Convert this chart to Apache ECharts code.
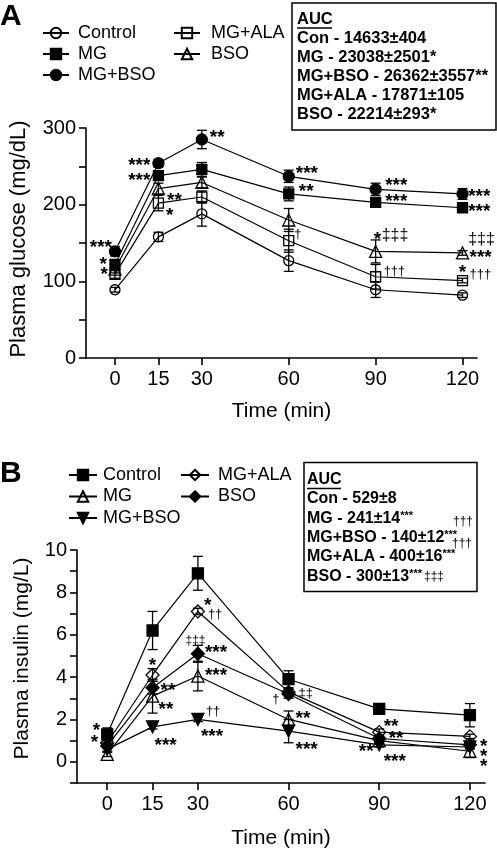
<!DOCTYPE html>
<html><head><meta charset="utf-8">
<script src="https://cdn.jsdelivr.net/npm/echarts@6/dist/echarts.min.js"></script>
<style>html,body{margin:0;padding:0;background:#fff}#a,#b{width:497px;height:427px}</style>
</head><body><div id="a"></div><div id="b"></div>
<script>
// ---------------- DATA ----------------
const timePoints = [0, 15, 30, 60, 90, 120];
const xTickLabels = ['0', '15', '30', '60', '90', '120'];
const groupNames = ['Control', 'MG', 'MG+BSO', 'MG+ALA', 'BSO'];

// Panel A: plasma glucose (mg/dL)
const yTickLabelsA = [0, 100, 200, 300];
const glucoseControl = [89, 158, 188, 127, 89, 82];
const glucoseControlErr = [3, 6, 16, 14, 10, 3];
const glucoseMG = [122, 238, 246, 214, 203, 196];
const glucoseMGErr = [6, 6, 9, 9, 5, 4];
const glucoseMGBSO = [139, 254, 285, 237, 220, 214];
const glucoseMGBSOErr = [6, 5, 12, 8, 8, 7];
const glucoseMGALA = [109, 202, 210, 153, 106, 101];
const glucoseMGALAErr = [5, 10, 8, 15, 16, 3];
const glucoseBSO = [116, 221, 229, 180, 139, 137];
const glucoseBSOErr = [5, 7, 7, 15, 15, 3];
const aucTitleA = 'AUC';
const aucLinesA = ['Con - 14633±404', 'MG - 23038±2501*', 'MG+BSO - 26362±3557**', 'MG+ALA - 17871±105', 'BSO - 22214±293*'];

// Panel B: plasma insulin (mg/L)
const yTickLabelsB = [0, 2, 4, 6, 8, 10];
const insulinControl = [1.3, 6.2, 8.9, 3.9, 2.5, 2.2];
const insulinControlErr = [0.3, 0.9, 0.8, 0.4, 0.2, 0.55];
const insulinMG = [0.35, 3.1, 4.05, 2.0, 1.0, 0.5];
const insulinMGErr = [0.1, 0.8, 0.7, 0.4, 0.15, 0.3];
const insulinMGBSO = [0.6, 1.65, 2.0, 1.45, 0.8, 0.7];
const insulinMGBSOErr = [0.1, 0.1, 0.1, 0.55, 0.1, 0.1];
const insulinMGALA = [0.9, 4.1, 7.1, 3.3, 1.4, 1.2];
const insulinMGALAErr = [0.1, 0.3, 0.15, 0.15, 0.15, 0.1];
const insulinBSO = [0.75, 3.5, 5.1, 3.2, 1.1, 0.8];
const insulinBSOErr = [0.1, 0.3, 0.4, 0.2, 0.1, 0.15];
const aucTitleB = 'AUC';
const aucLinesB = ['Con - 529±8', 'MG - 241±14', 'MG+BSO - 140±12', 'MG+ALA - 400±16', 'BSO - 300±13'];
const aucSupB = ['', '***', '***', '***', '***'];

// Significance marks: [group, time index, text]
const marksA = [
  ['MG+BSO',0,'***'],['MG',0,'*'],['MG+ALA',0,'*'],
  ['MG+BSO',1,'***'],['MG',1,'***'],['BSO',1,'**'],['MG+ALA',1,'*'],
  ['MG+BSO',2,'**'],
  ['MG+BSO',3,'***'],['MG',3,'**'],['MG+ALA',3,'†'],
  ['MG+BSO',4,'***'],['MG',4,'***'],['BSO',4,'*'],['BSO',4,'‡‡‡'],['MG+ALA',4,'†††'],
  ['MG+BSO',5,'***'],['MG',5,'***'],['BSO',5,'‡‡‡'],['BSO',5,'***'],['MG+ALA',5,'*'],['MG+ALA',5,'†††']
];
const marksB = [
  ['Control',0,'*'],['MG+ALA',0,'*'],
  ['MG+ALA',1,'*'],['BSO',1,'**'],['MG',1,'**'],['MG+BSO',1,'***'],
  ['MG+ALA',2,'*'],['MG+ALA',2,'††'],['BSO',2,'‡‡‡'],['BSO',2,'***'],['MG',2,'***'],['MG+BSO',2,'††'],['MG+BSO',2,'***'],
  ['BSO',3,'†'],['MG+ALA',3,'‡‡'],['MG',3,'**'],['MG+BSO',3,'***'],
  ['MG+ALA',4,'**'],['BSO',4,'**'],['MG',4,'**'],['MG+BSO',4,'***'],
  ['BSO',5,'*'],['BSO',5,'*'],['BSO',5,'*']
];

// ---------------- LAYOUT / STYLE ----------------
const FONT = 'Liberation Sans, Arial, Helvetica, sans-serif';
// per-mark placement: [align, dx, dy, fontSize]
const marksLayoutA = [
  ['r',-3,-3.6],['r',-8,0],['r',-7,0],
  ['r',-8,2.4],['r',-8,5],['l',8.6,11.7],['l',7.6,13],
  ['l',8,-1.3],
  ['l',7,-2.4],['l',10,-2],['l',5.5,-6,13],
  ['l',9.5,-3.3],['l',9.5,-1],['l',-2,-12],['l',6,-16,16],['l',8,-5.7,13],
  ['l',5.7,3.3],['l',5.7,4],['l',5.7,-13.4,16],['l',7,4.6],['c',0,-7.5],['l',7,-6.5,13]
];
const marksLayoutB = [
  ['r',-7,-4],['r',-9,0],
  ['c',0,-9.6],['l',8,3.3],['l',6,13.5],['l',2,18.4],
  ['l',6,-6],['l',10,3.4,13],['c',-2.4,-13.3,12],['l',7,-0.7],['l',7,-0.6],['l',8,-8,13],['l',3,17.5],
  ['r',-9,5.6,13],['l',10,2,13],['l',7,-0.8],['l',7,18.5],
  ['l',4.5,-5.3],['l',9.5,0],['r',-5.7,11.2],['l',4.5,17],
  ['l',10,2],['l',10,11.4],['l',10,22]
];
const DOWN_TRI = 'path://M0,0 L10,0 L5,9 Z';
const symA = {
  'Control': {symbol: 'circle', size: 10, hollow: true},
  'MG': {symbol: 'rect', size: 10, hollow: false},
  'MG+BSO': {symbol: 'circle', size: 11, hollow: false},
  'MG+ALA': {symbol: 'rect', size: 10, hollow: true},
  'BSO': {symbol: 'triangle', size: 12, hollow: true}
};
const symB = {
  'Control': {symbol: 'rect', size: 11, hollow: false},
  'MG': {symbol: 'triangle', size: 12, hollow: true},
  'MG+BSO': {symbol: DOWN_TRI, size: 12, hollow: false},
  'MG+ALA': {symbol: 'diamond', size: 13, hollow: true},
  'BSO': {symbol: 'diamond', size: 13, hollow: false}
};

function buildOption(p) {
  const series = [];
  const errData = [];
  groupNames.forEach(g => {
    p.values[g].forEach((v, i) => errData.push([timePoints[i], v, p.errors[g][i]]));
  });
  series.push({
    type: 'custom', silent: true, z: 2, clip: false,
    encode: {x: 0, y: 1},
    data: errData,
    renderItem: function (params, api) {
      const x = api.value(0), y = api.value(1), e = api.value(2);
      const t = api.coord([x, y + e]), b = api.coord([x, y - e]);
      const w = 5, st = {stroke: '#000', lineWidth: 1.3};
      return {type: 'group', children: [
        {type: 'line', shape: {x1: t[0], y1: t[1], x2: b[0], y2: b[1]}, style: st},
        {type: 'line', shape: {x1: t[0] - w, y1: t[1], x2: t[0] + w, y2: t[1]}, style: st},
        {type: 'line', shape: {x1: b[0] - w, y1: b[1], x2: b[0] + w, y2: b[1]}, style: st}
      ]};
    }
  });
  groupNames.forEach(g => {
    const s = p.sym[g];
    series.push({
      name: g, type: 'line', z: 3,
      data: p.values[g].map((v, i) => [timePoints[i], v]),
      symbol: s.symbol, symbolSize: s.size, showAllSymbol: true,
      lineStyle: {color: '#000', width: 1.2},
      itemStyle: {color: s.hollow ? 'rgba(255,255,255,0)' : '#000', borderColor: '#000', borderWidth: 1.3},
      emphasis: {disabled: true}
    });
  });
  series.push({
    type: 'scatter', silent: true, z: 5, symbolSize: 1,
    itemStyle: {color: 'rgba(0,0,0,0)'},
    data: p.marks.map((m, k) => {
      const L = p.marksLayout[k];
      const isDag = /[†‡]/.test(m[2]);
      return {
        value: [timePoints[m[1]], p.values[m[0]][m[1]]],
        label: {
          show: true, position: 'inside', formatter: m[2],
          offset: [L[1], L[2]],
          align: L[0] === 'l' ? 'left' : (L[0] === 'r' ? 'right' : 'center'),
          verticalAlign: 'middle', opacity: 1,
          fontSize: L[3] || 19, fontFamily: FONT, color: '#000',
          textBorderWidth: 0,
          fontWeight: isDag ? 'normal' : 'bold'
        }
      };
    })
  });
  const axisCommon = {
    axisLine: {show: true, onZero: false, lineStyle: {color: '#000', width: 1.6}},
    axisTick: {show: true, length: 7, lineStyle: {color: '#000', width: 1.6}},
    splitLine: {show: false}
  };
  const legendCommon = {
    orient: 'vertical', selectedMode: false, itemHeight: 13,
    textStyle: {fontSize: 18, fontFamily: FONT, color: '#000', lineHeight: 18}
  };
  return {
    animation: false,
    grid: p.grid,
    legend: [
      Object.assign({}, legendCommon, {data: groupNames.slice(0, 3), left: p.leg[0], top: p.leg[1], itemWidth: p.leg[2], itemGap: p.leg[3],
        textStyle: Object.assign({}, legendCommon.textStyle, {padding: [0, 0, 0, p.leg[4]]})}),
      Object.assign({}, legendCommon, {data: groupNames.slice(3), left: p.leg[5], top: p.leg[1], itemWidth: p.leg[6], itemGap: p.leg[3],
        textStyle: Object.assign({}, legendCommon.textStyle, {padding: [0, 0, 0, p.leg[7]]})})
    ],
    xAxis: Object.assign({}, axisCommon, {
      type: 'value', min: -10, max: 125,
      axisTick: Object.assign({}, axisCommon.axisTick, {customValues: timePoints}),
      axisLabel: {customValues: timePoints, formatter: v => xTickLabels[timePoints.indexOf(v)] || '', fontSize: 20, fontFamily: FONT, color: '#000', margin: 11},
      name: 'Time (min)', nameLocation: 'middle', nameGap: p.xNameGap,
      nameTextStyle: {fontSize: 21, fontFamily: FONT, color: '#000'}
    }),
    yAxis: Object.assign({}, axisCommon, {
      type: 'value', min: p.yMin, max: p.yMax, interval: p.yInterval,
      axisLabel: {formatter: v => p.yLabels.indexOf(v) >= 0 ? String(v) : '', fontSize: 20, fontFamily: FONT, color: '#000', margin: 10},
      name: p.yName, nameLocation: 'middle', nameGap: p.yNameGap,
      nameTextStyle: {fontSize: p.yNameSize, fontFamily: FONT, color: '#000', padding: p.yNamePad}
    }),
    series: series,
    graphic: p.graphic
  };
}

function aucBoxA() {
  const children = [
    {type: 'rect', shape: {x: 292, y: 3, width: 204, height: 127}, style: {fill: '#fff', stroke: '#000', lineWidth: 1.5}},
    {type: 'text', x: 297, y: 19.5, style: {text: aucTitleA, font: 'bold 16.5px ' + FONT, fill: '#000', verticalAlign: 'middle'}},
    {type: 'line', shape: {x1: 297, y1: 28, x2: 332, y2: 28}, style: {stroke: '#000', lineWidth: 1.5}}
  ];
  aucLinesA.forEach((t, i) => children.push({type: 'text', x: 297, y: 38.5 + 19 * i,
    style: {text: t, font: 'bold 16.5px ' + FONT, fill: '#000', verticalAlign: 'middle'}}));
  children.push({type: 'text', x: 0, y: 17, style: {text: 'A', font: 'bold 30px ' + FONT, fill: '#000', verticalAlign: 'middle'}});
  return children;
}
function aucBoxB() {
  const children = [
    {type: 'rect', shape: {x: 304, y: 35.5, width: 173, height: 129}, style: {fill: '#fff', stroke: '#000', lineWidth: 1.5}},
    {type: 'text', x: 307, y: 53, style: {text: aucTitleB, font: 'bold 16px ' + FONT, fill: '#000', verticalAlign: 'middle'}},
    {type: 'line', shape: {x1: 307, y1: 61.5, x2: 341, y2: 61.5}, style: {stroke: '#000', lineWidth: 1.5}}
  ];
  aucLinesB.forEach((t, i) => {
    let txt = t + (aucSupB[i] ? '{sup|' + aucSupB[i] + '}' : '');
    if (i === 4) txt += '{dag|‡‡‡}';
    children.push({type: 'text', x: 307, y: 72 + 19.3 * i,
      style: {text: txt, font: 'bold 16px ' + FONT, fill: '#000', verticalAlign: 'middle',
        rich: {sup: {font: 'bold 11px ' + FONT, verticalAlign: 'top', fill: '#000'},
               dag: {font: '12px ' + FONT, fill: '#000', padding: [0, 0, 0, 2]}}}});
  });
  children.push({type: 'text', x: 463, y: 95, style: {text: '†††', font: '12px ' + FONT, fill: '#000', align: 'center', verticalAlign: 'middle'}});
  children.push({type: 'text', x: 462, y: 117, style: {text: '†††', font: '12px ' + FONT, fill: '#000', align: 'center', verticalAlign: 'middle'}});
  children.push({type: 'text', x: 0, y: 47, style: {text: 'B', font: 'bold 30px ' + FONT, fill: '#000', verticalAlign: 'middle'}});
  return children;
}

const optA = buildOption({
  values: {'Control': glucoseControl, 'MG': glucoseMG, 'MG+BSO': glucoseMGBSO, 'MG+ALA': glucoseMGALA, 'BSO': glucoseBSO},
  errors: {'Control': glucoseControlErr, 'MG': glucoseMGErr, 'MG+BSO': glucoseMGBSOErr, 'MG+ALA': glucoseMGALAErr, 'BSO': glucoseBSOErr},
  sym: symA, marks: marksA, marksLayout: marksLayoutA,
  grid: {left: 77, top: 128, right: 20, bottom: 65},
  leg: [37, 19, 26, 3, 4, 168, 26, 6],
  yMin: 0, yMax: 300, yInterval: 50, yLabels: yTickLabelsA,
  yName: 'Plasma glucose (mg/dL)', yNameSize: 22, yNameGap: 56, yNamePad: [0, 0, 0, 8], xNameGap: 43,
  graphic: aucBoxA()
});
const optB = buildOption({
  values: {'Control': insulinControl, 'MG': insulinMG, 'MG+BSO': insulinMGBSO, 'MG+ALA': insulinMGALA, 'BSO': insulinBSO},
  errors: {'Control': insulinControlErr, 'MG': insulinMGErr, 'MG+BSO': insulinMGBSOErr, 'MG+ALA': insulinMGALAErr, 'BSO': insulinBSOErr},
  sym: symB, marks: marksB, marksLayout: marksLayoutB,
  grid: {left: 77, top: 123, right: 12, bottom: 71},
  leg: [63, 34, 28, 3.5, 1, 175, 28, 4],
  yMin: -1, yMax: 10, yInterval: 1, yLabels: yTickLabelsB,
  yName: 'Plasma insulin (mg/L)', yNameSize: 21, yNameGap: 44, yNamePad: [0, 0, 0, 16], xNameGap: 45,
  graphic: aucBoxB()
});
echarts.init(document.getElementById('a')).setOption(optA);
echarts.init(document.getElementById('b')).setOption(optB);
</script></body></html>
